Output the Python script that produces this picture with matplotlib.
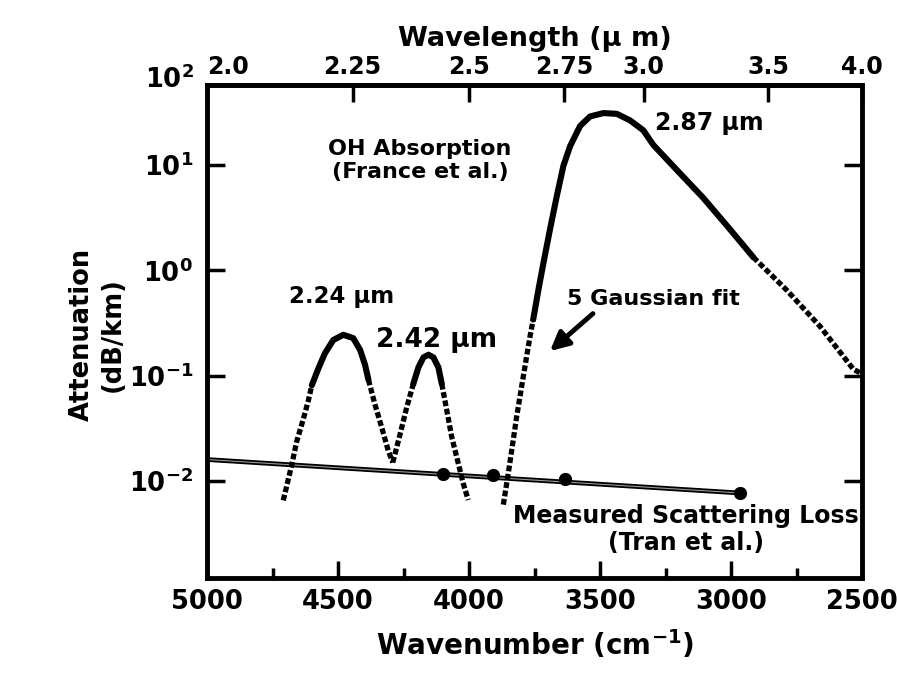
"""OH absorption and scattering loss versus wavenumber (log attenuation)."""

import numpy as np
import matplotlib

matplotlib.use("Agg")
import matplotlib.pyplot as plt
from matplotlib.ticker import FixedLocator, NullLocator, FuncFormatter

# 2.24 um band: Gaussian fit wings (dotted) and measured part (solid)
P1_FIT_L_WN = [4709, 4677, 4658, 4632, 4613, 4600]
P1_FIT_L_ATT = [0.00655, 0.0141, 0.0236, 0.0391, 0.0585, 0.0811]
P1_WN = [4600, 4575, 4550, 4518, 4480, 4442, 4416, 4397, 4384]
P1_ATT = [0.0811, 0.117, 0.163, 0.218, 0.244, 0.227, 0.176, 0.127, 0.0916]
P1_FIT_R_WN = [4384, 4359, 4333, 4308, 4291]
P1_FIT_R_ATT = [0.0916, 0.0532, 0.0321, 0.0193, 0.0150]

# 2.42 um band
P2_FIT_L_WN = [4291, 4263, 4238, 4213]
P2_FIT_L_ATT = [0.0150, 0.0279, 0.0499, 0.0830]
P2_WN = [4213, 4193, 4174, 4155, 4136, 4117, 4104]
P2_ATT = [0.0830, 0.120, 0.149, 0.158, 0.149, 0.120, 0.0836]
P2_FIT_R_WN = [4104, 4085, 4066, 4041, 4022, 4003]
P2_FIT_R_ATT = [0.0836, 0.0469, 0.0262, 0.0147, 0.00946, 0.00661]

# 2.87 um band
P3_FIT_L_WN = [3869, 3850, 3831, 3818, 3799, 3780, 3767, 3755]
P3_FIT_L_ATT = [0.00597, 0.0119, 0.0247, 0.0411, 0.0794, 0.153, 0.237, 0.341]
P3_WN = [3755, 3735, 3716, 3691, 3665, 3640, 3614, 3576, 3538, 3487,
         3436, 3385, 3335, 3296, 3201, 3106, 3010, 2915]
P3_ATT = [0.341, 0.656, 1.17, 2.44, 5.05, 9.75, 15.1, 23.4, 28.8, 31.0,
          30.5, 26.4, 21.3, 15.4, 8.63, 4.86, 2.55, 1.33]
P3_FIT_R_WN = [2915, 2787, 2660, 2533, 2500]
P3_FIT_R_ATT = [1.33, 0.646, 0.293, 0.115, 0.104]

# measured scattering loss (Tran et al.)
SCAT_LINE_WN = [5000, 2966]
SCAT_LINE_ATT = [0.0160, 0.0077]
SCAT_WN = [4099, 3908, 3634, 2966]
SCAT_ATT = [0.0116, 0.0115, 0.0105, 0.0077]

X_TICKS = [5000, 4500, 4000, 3500, 3000, 2500]
X_MINOR = [4750, 4250, 3750, 3250, 2750]
Y_TICKS = [1e-2, 1e-1, 1e0, 1e1]
WL_TICKS = [2.0, 2.25, 2.5, 2.75, 3.0, 3.5, 4.0]
WL_LABELS = ["2.0", "2.25", "2.5", "2.75", "3.0", "3.5", "4.0"]

plt.rcParams["font.family"] = "DejaVu Sans"
plt.rcParams["font.weight"] = "bold"
plt.rcParams["axes.labelweight"] = "bold"
plt.rcParams["mathtext.fontset"] = "dejavusans"
plt.rcParams["mathtext.default"] = "bf"

fig = plt.figure(figsize=(8.97, 6.75), dpi=100)
ax = fig.add_axes([0.2308, 0.1437, 0.7302, 0.7304])

solid = dict(color="black", lw=4.4, solid_capstyle="round", solid_joinstyle="round")
dotted = dict(color="black", lw=3.8, linestyle=(0, (1.1, 0.5)), dash_capstyle="butt")

ax.plot(SCAT_LINE_WN, SCAT_LINE_ATT, color="black", lw=3.4)
ax.plot(SCAT_LINE_WN, SCAT_LINE_ATT, color="0.6", lw=0.8)
ax.plot(SCAT_WN, SCAT_ATT, "o", color="black", ms=8.5)

for wn, att in [(P1_FIT_L_WN, P1_FIT_L_ATT), (P1_FIT_R_WN, P1_FIT_R_ATT),
                (P2_FIT_L_WN, P2_FIT_L_ATT), (P2_FIT_R_WN, P2_FIT_R_ATT),
                (P3_FIT_L_WN, P3_FIT_L_ATT), (P3_FIT_R_WN, P3_FIT_R_ATT)]:
    ax.plot(wn, att, **dotted)
for wn, att in [(P1_WN, P1_ATT), (P2_WN, P2_ATT), (P3_WN, P3_ATT)]:
    ax.plot(wn, att, **solid)

ax.set_xlim(5000, 2500)
ax.set_yscale("log")
ax.set_ylim(10 ** -2.92, 10 ** 1.758)

ax.xaxis.set_major_locator(FixedLocator(X_TICKS))
ax.xaxis.set_minor_locator(FixedLocator(X_MINOR))
ax.yaxis.set_major_locator(FixedLocator(Y_TICKS))
ax.yaxis.set_minor_locator(NullLocator())
ax.yaxis.set_major_formatter(
    FuncFormatter(lambda v, pos: r"$10^{%d}$" % round(np.log10(v))))
ax.tick_params(axis="x", which="major", direction="in", length=12, width=2.5,
               labelsize=18.5, pad=8)
ax.tick_params(axis="x", which="minor", direction="in", length=7, width=2.5)
ax.tick_params(axis="y", which="major", direction="in", length=13, width=2.5,
               labelsize=18.5, pad=10, right=True)
for spine in ax.spines.values():
    spine.set_linewidth(3.5)

ax.text(-0.02, 1.01, r"$10^{2}$", transform=ax.transAxes, ha="right",
        va="center", fontsize=18.5)

secax = ax.secondary_xaxis("top", functions=(lambda x: 1e4 / np.asarray(x),
                                             lambda x: 1e4 / np.asarray(x)))
secax.xaxis.set_major_locator(FixedLocator(WL_TICKS))
secax.xaxis.set_minor_locator(NullLocator())
secax.set_xticklabels(WL_LABELS)
secax.tick_params(direction="in", length=12, width=2.5, labelsize=17, pad=4)
secax.spines["top"].set_linewidth(3.5)
secax.get_xticklabels()[0].set_horizontalalignment("left")
secax.set_xlabel("Wavelength (µ m)", fontsize=19.5, labelpad=7)

ax.set_xlabel("Wavenumber (cm$^{-1}$)", fontsize=20, labelpad=9)
fig.text(0.108, 0.504, "Attenuation\n(dB/km)", rotation=90, ha="center",
         va="center", fontsize=18.5, linespacing=1.25)

ax.text(4187, 11, "OH Absorption\n(France et al.)", ha="center", va="center",
        fontsize=16, linespacing=1.2)
ax.text(3290, 24.9, "2.87 µm", ha="left", va="center", fontsize=17)
ax.text(4485, 0.566, "2.24 µm", ha="center", va="center", fontsize=16.5)
ax.text(4122, 0.217, "2.42 µm", ha="center", va="center", fontsize=19)
ax.text(3626, 0.536, "5 Gaussian fit", ha="left", va="center", fontsize=16)
ax.annotate("", xy=(3691, 0.171), xytext=(3527, 0.388),
            arrowprops=dict(arrowstyle="-|>", color="black", lw=3.5,
                            mutation_scale=28, shrinkA=0, shrinkB=0))
ax.text(3172, 0.00348, "Measured Scattering Loss\n(Tran et al.)", ha="center",
        va="center", fontsize=17, linespacing=1.15)

fig.savefig("out.png", dpi=100)
